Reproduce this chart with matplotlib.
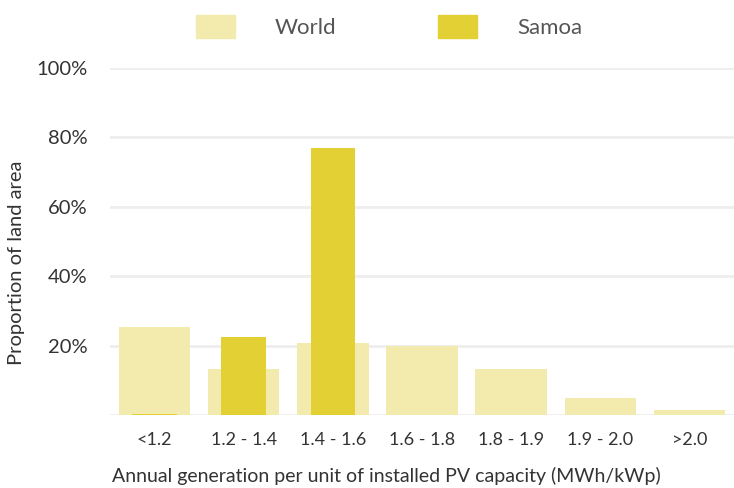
import matplotlib.pyplot as plt
from matplotlib.patches import Patch

plt.rcParams['font.family'] = ['Lato', 'DejaVu Sans']

categories = ['<1.2', '1.2 - 1.4', '1.4 - 1.6', '1.6 - 1.8', '1.8 - 1.9', '1.9 - 2.0', '>2.0']
world = [25.5, 13.4, 20.8, 19.8, 13.3, 5.0, 1.3]
samoa = [0.3, 22.5, 77.0, 0.0, 0.0, 0.0, 0.0]
yticks = [20, 40, 60, 80, 100]
ytick_labels = ['20%', '40%', '60%', '80%', '100%']

world_color = '#F3EBAD'
samoa_color = '#E2D034'
text_color = '#333333'

fig = plt.figure(figsize=(7.34, 4.88), dpi=100)
ax = fig.add_axes([110 / 734, 73 / 488, 624 / 734, 347 / 488])

x = list(range(len(categories)))
ax.bar(x, world, width=0.8, color=world_color, zorder=2)
ax.bar(x, samoa, width=0.5, color=samoa_color, zorder=3)

ax.set_xlim(-0.5, 6.5)
ax.set_ylim(0, 100)
for v in [0] + yticks:
    ax.axhline(v, color='#eeeeee', linewidth=2, zorder=1)

ax.set_yticks(yticks)
ax.set_yticklabels(ytick_labels, fontsize=14.5, color=text_color)
ax.set_xticks(x)
ax.set_xticklabels(categories, fontsize=13, color=text_color)
ax.tick_params(axis='both', length=0)
ax.tick_params(axis='y', pad=16)
ax.tick_params(axis='x', pad=12)
for s in ax.spines.values():
    s.set_visible(False)

fig.text(17 / 734, 1 - 263 / 488, 'Proportion of land area', fontsize=14.5, color=text_color,
         rotation=90, ha='center', va='center')
fig.text(386 / 734, 1 - 476 / 488, 'Annual generation per unit of installed PV capacity (MWh/kWp)',
         fontsize=14, color=text_color, ha='center', va='center')

handles = [Patch(color=world_color), Patch(color=samoa_color)]
fig.legend(handles, ['World', 'Samoa'], loc='center', bbox_to_anchor=(0.53, 0.946), ncol=2,
           frameon=False, handlelength=1.75, handleheight=1.25, handletextpad=1.8,
           columnspacing=4.6, labelcolor='#555555', prop={'size': 16})

plt.savefig('out.png', dpi=100)
